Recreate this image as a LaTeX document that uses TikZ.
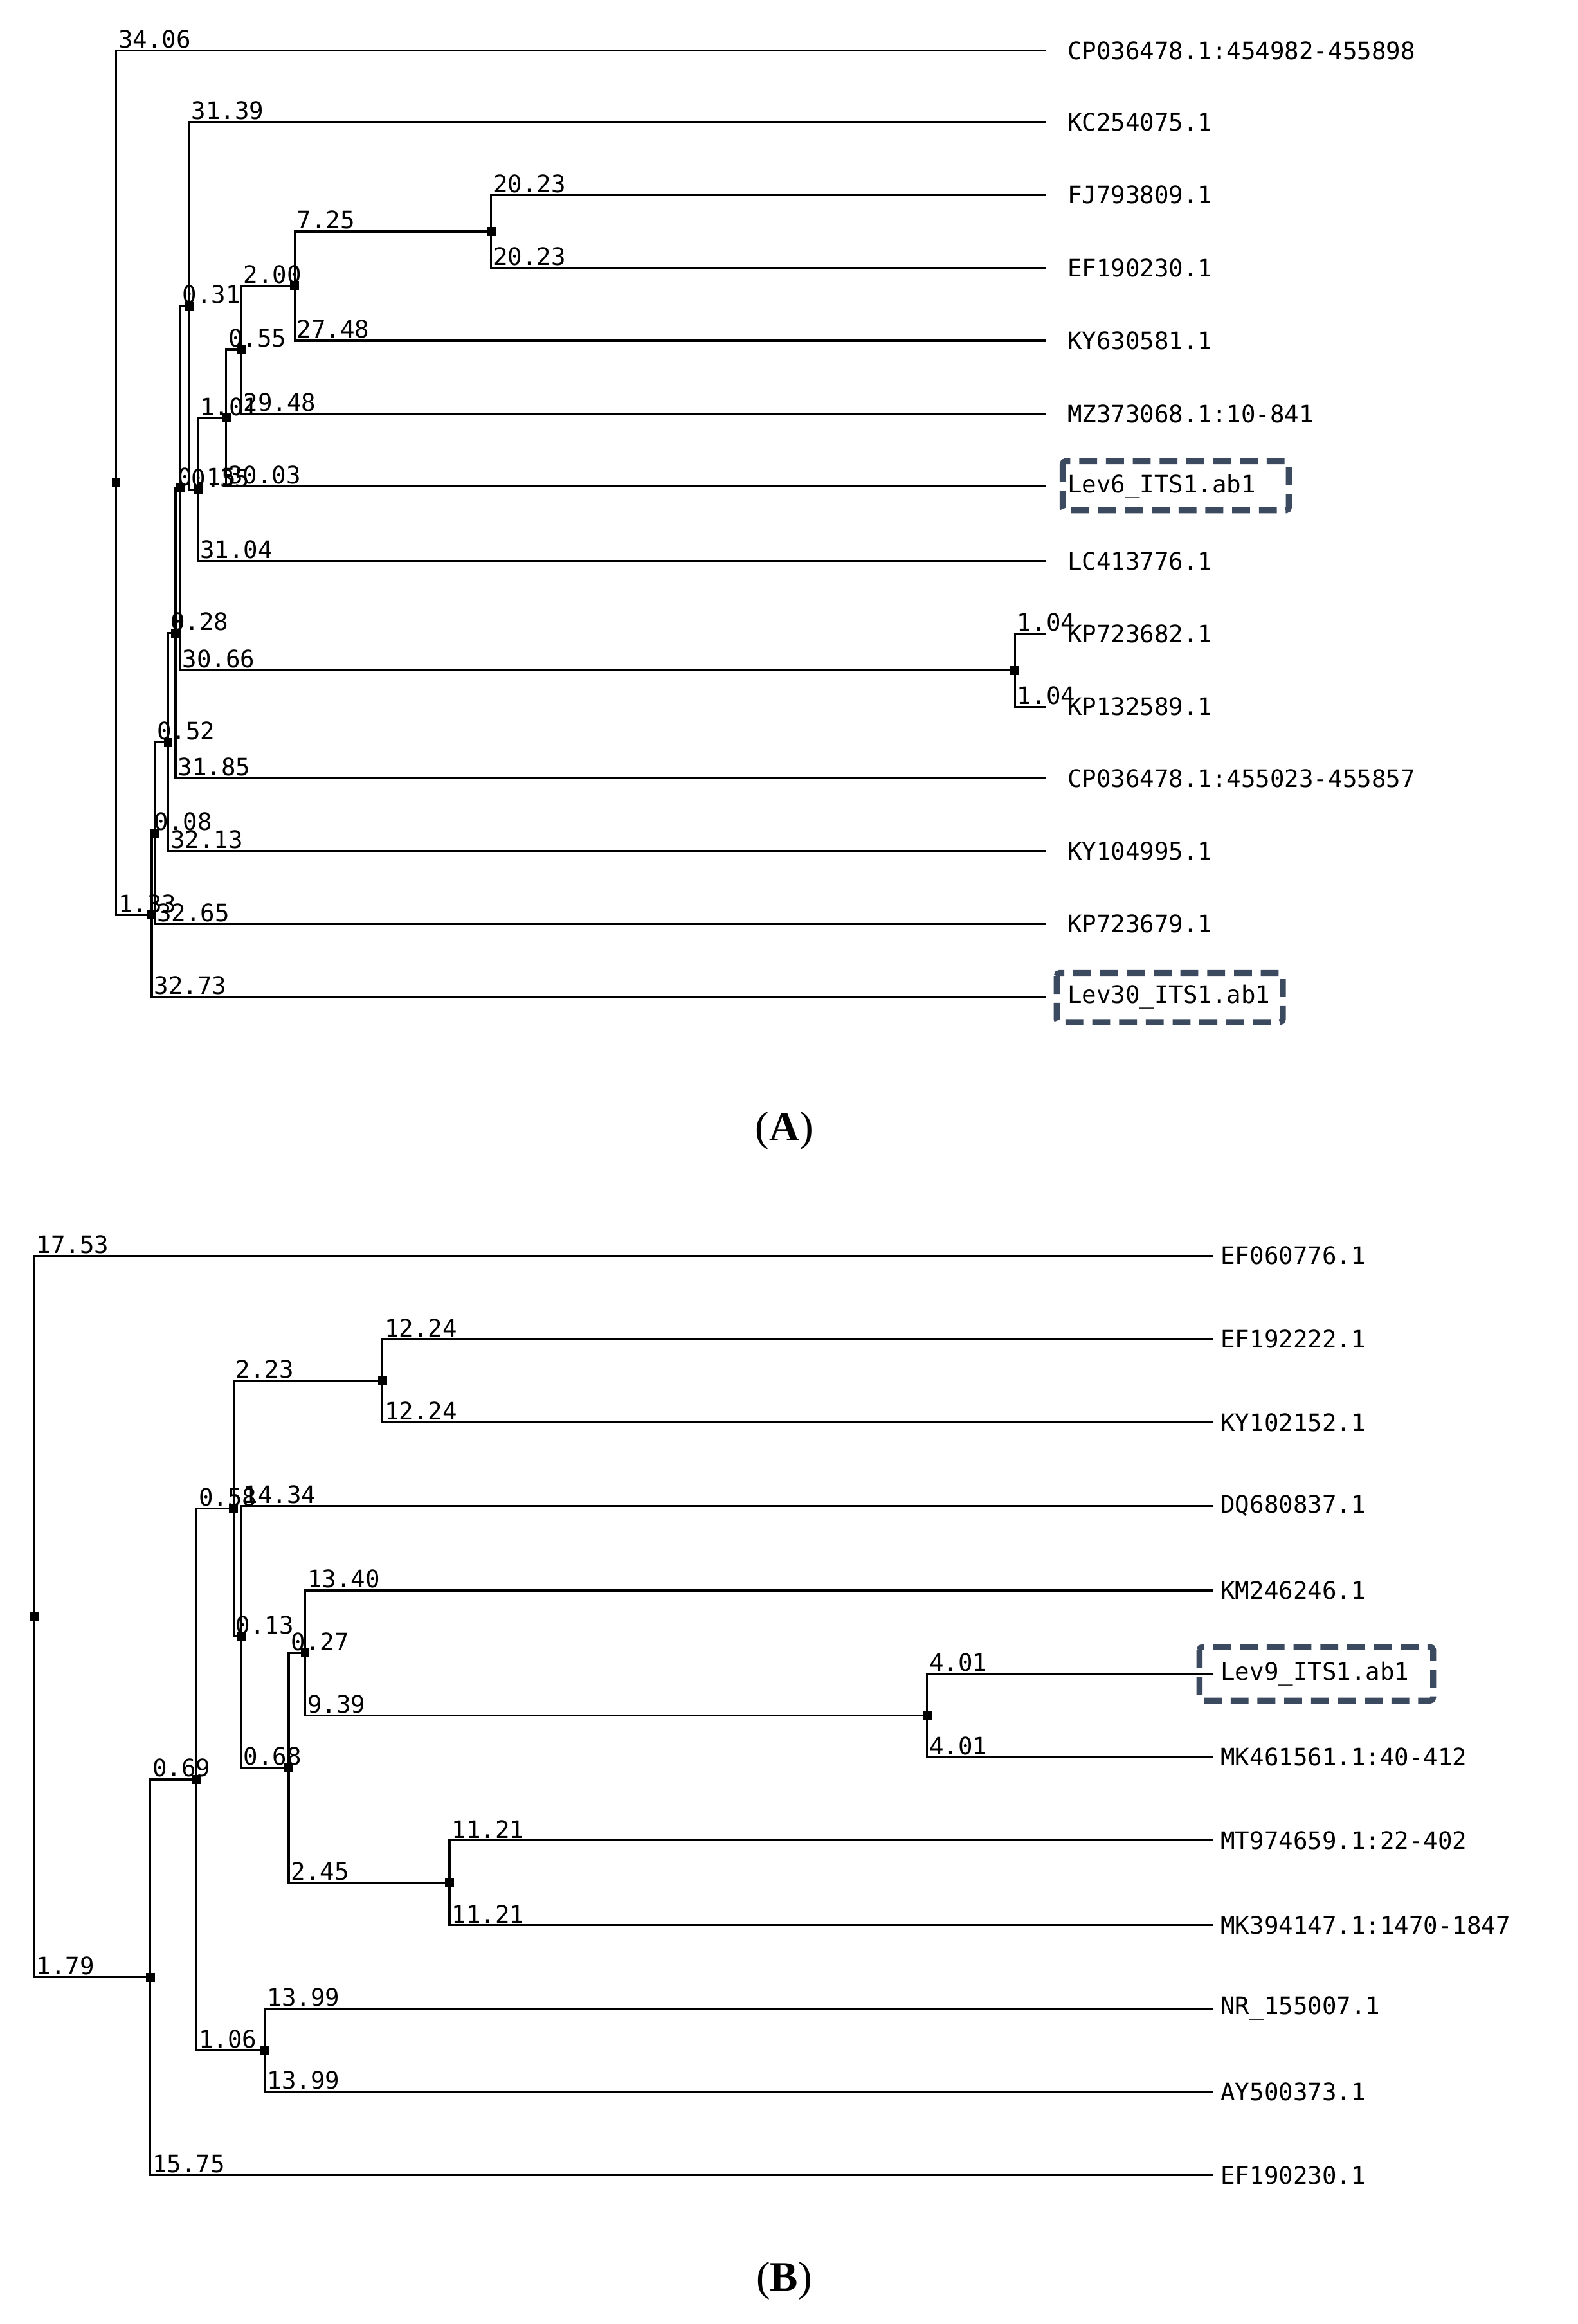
\documentclass[tikz,border=0pt]{standalone}
\usepackage{fontspec}
\setmainfont{Liberation Serif}
\newfontfamily\treefont{DejaVu Sans Mono}
\definecolor{boxc}{HTML}{3B4A5E}
\begin{document}
\begin{tikzpicture}[x=0.25mm,y=-0.25mm,
  br/.style={line width=0.35mm},
  bl/.style={pos=0.5,anchor=south west,inner sep=0.6pt,font=\treefont\fontsize{11.5}{13}\selectfont},
  tipA/.style={anchor=west,inner xsep=3.5mm,inner ysep=0pt,font=\treefont\fontsize{11.5}{13}\selectfont},
  tipB/.style={anchor=west,inner xsep=1.25mm,inner ysep=0pt,font=\treefont\fontsize{11.5}{13}\selectfont},
  dot/.style={fill,rectangle,inner sep=0,minimum size=1.5mm},
  hbox/.style={draw=boxc,line width=1mm,dash pattern=on 3mm off 1.5mm,rounded corners=0.5mm},
  panel/.style={font=\fontsize{20}{24}\selectfont}]
\useasboundingbox (0,0) rectangle (1060,1562);
% ---------- Tree A ----------
\coordinate (rA) at (78,324.5);
\coordinate (a1) at (102,615);
\coordinate (a2) at (104,560);
\coordinate (a3) at (113,499);
\coordinate (a4) at (118,425.5);
\coordinate (aX) at (121,328);
\coordinate (aY) at (127,205.5);
\coordinate (aZ) at (133,329);
\coordinate (a6) at (152,281);
\coordinate (a7) at (162,235);
\coordinate (a8) at (198,192);
\coordinate (a9) at (330,155.5);
\coordinate (aK) at (682,450.5);
\node[tipA] (tA1) at (703,34) {CP036478.1:454982-455898};
\node[tipA] (tA2) at (703,82) {KC254075.1};
\node[tipA] (tA3) at (703,131) {FJ793809.1};
\node[tipA] (tA4) at (703,180) {EF190230.1};
\node[tipA] (tA5) at (703,229) {KY630581.1};
\node[tipA] (tA6) at (703,278) {MZ373068.1:10-841};
\node[tipA] (tA7) at (703,327) {Lev6\_ITS1.ab1};
\node[tipA] (tA8) at (703,377) {LC413776.1};
\node[tipA] (tA9) at (703,426) {KP723682.1};
\node[tipA] (tA10) at (703,475) {KP132589.1};
\node[tipA] (tA11) at (703,523) {CP036478.1:455023-455857};
\node[tipA] (tA12) at (703,572) {KY104995.1};
\node[tipA] (tA13) at (703,621) {KP723679.1};
\node[tipA] (tA14) at (703,670) {Lev30\_ITS1.ab1};
\begin{scope}[br]
\draw (rA) |- node[bl]{34.06} (tA1.west);
\draw (rA) |- node[bl]{1.33} (a1);
\draw (a1) |- node[bl]{0.08} (a2);
\draw (a1) |- node[bl]{32.73} (tA14.west);
\draw (a2) |- node[bl]{32.65} (tA13.west);
\draw (a2) |- node[bl]{0.52} (a3);
\draw (a3) |- node[bl]{32.13} (tA12.west);
\draw (a3) |- node[bl]{0.28} (a4);
\draw (a4) |- node[bl]{31.85} (tA11.west);
\draw (a4) |- node[bl]{0.15} (aX);
\draw (aX) |- node[bl]{0.31} (aY);
\draw (aX) |- node[bl]{30.66} (aK);
\draw (aK) |- node[bl]{1.04} (tA9.west);
\draw (aK) |- node[bl]{1.04} (tA10.west);
\draw (aY) |- node[bl]{31.39} (tA2.west);
\draw (aY) |- node[bl]{0.35} (aZ);
\draw (aZ) |- node[bl]{31.04} (tA8.west);
\draw (aZ) |- node[bl]{1.01} (a6);
\draw (a6) |- node[bl]{30.03} (tA7.west);
\draw (a6) |- node[bl]{0.55} (a7);
\draw (a7) |- node[bl]{29.48} (tA6.west);
\draw (a7) |- node[bl]{2.00} (a8);
\draw (a8) |- node[bl]{27.48} (tA5.west);
\draw (a8) |- node[bl]{7.25} (a9);
\draw (a9) |- node[bl]{20.23} (tA3.west);
\draw (a9) |- node[bl]{20.23} (tA4.west);
\end{scope}
\foreach \n in {rA,a1,a2,a3,a4,aX,aY,aZ,a6,a7,a8,a9,aK} \node[dot] at (\n) {};
\draw[hbox] (714,310) rectangle (866,343);
\draw[hbox] (710,654) rectangle (862,687);
\node[panel] (pA) at (527,760) {(\textbf{A})};
% ---------- Tree B ----------
\coordinate (rB) at (23,1086.5);
\coordinate (b1) at (101,1329);
\coordinate (b2) at (132,1196);
\coordinate (b3) at (157,1014);
\coordinate (b6) at (162,1100);
\coordinate (b7) at (194,1188);
\coordinate (b8) at (205,1111);
\coordinate (b9) at (302,1265.5);
\coordinate (b5) at (257,928);
\coordinate (bL) at (623,1153);
\coordinate (b4) at (178,1378);
\node[tipB] (tB1) at (815,844) {EF060776.1};
\node[tipB] (tB2) at (815,900) {EF192222.1};
\node[tipB] (tB3) at (815,956) {KY102152.1};
\node[tipB] (tB4) at (815,1012) {DQ680837.1};
\node[tipB] (tB5) at (815,1069) {KM246246.1};
\node[tipB] (tB6) at (815,1125) {Lev9\_ITS1.ab1};
\node[tipB] (tB7) at (815,1181) {MK461561.1:40-412};
\node[tipB] (tB8) at (815,1237) {MT974659.1:22-402};
\node[tipB] (tB9) at (815,1294) {MK394147.1:1470-1847};
\node[tipB] (tB10) at (815,1350) {NR\_155007.1};
\node[tipB] (tB11) at (815,1406) {AY500373.1};
\node[tipB] (tB12) at (815,1462) {EF190230.1};
\begin{scope}[br]
\draw (rB) |- node[bl]{17.53} (tB1.west);
\draw (rB) |- node[bl]{1.79} (b1);
\draw (b1) |- node[bl]{0.69} (b2);
\draw (b1) |- node[bl]{15.75} (tB12.west);
\draw (b2) |- node[bl]{0.58} (b3);
\draw (b2) |- node[bl]{1.06} (b4);
\draw (b4) |- node[bl]{13.99} (tB10.west);
\draw (b4) |- node[bl]{13.99} (tB11.west);
\draw (b3) |- node[bl]{2.23} (b5);
\draw (b3) |- node[bl]{0.13} (b6);
\draw (b5) |- node[bl]{12.24} (tB2.west);
\draw (b5) |- node[bl]{12.24} (tB3.west);
\draw (b6) |- node[bl]{14.34} (tB4.west);
\draw (b6) |- node[bl]{0.68} (b7);
\draw (b7) |- node[bl]{0.27} (b8);
\draw (b7) |- node[bl]{2.45} (b9);
\draw (b8) |- node[bl]{13.40} (tB5.west);
\draw (b8) |- node[bl]{9.39} (bL);
\draw (bL) |- node[bl]{4.01} (tB6.west);
\draw (bL) |- node[bl]{4.01} (tB7.west);
\draw (b9) |- node[bl]{11.21} (tB8.west);
\draw (b9) |- node[bl]{11.21} (tB9.west);
\end{scope}
\foreach \n in {rB,b1,b2,b3,b6,b7,b8,b9,b5,bL,b4} \node[dot] at (\n) {};
\draw[hbox] (806,1107) rectangle (963,1143);
\node[panel] (pB) at (527,1533) {(\textbf{B})};
\end{tikzpicture}
\end{document}
